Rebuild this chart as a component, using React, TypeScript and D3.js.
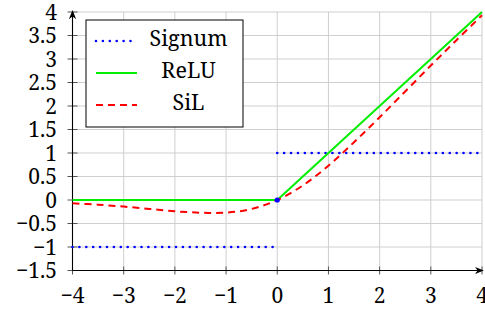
import React from 'react';
import * as d3 from 'd3';

// values
const xTicks = [-4, -3, -2, -1, 0, 1, 2, 3, 4];
const yTicks = [-1.5, -1, -0.5, 0, 0.5, 1, 1.5, 2, 2.5, 3, 3.5, 4];

const signumLeft: [number, number][] = [[-4, -1], [-0.08, -1]];
const signumRight: [number, number][] = [[0, 1], [4, 1]];
const signumZero: [number, number] = [0, 0];

const reluPoints: [number, number][] = [[-4, 0], [0, 0], [4, 4]];

const silX = [-4, -3.5, -3, -2.5, -2, -1.5, -1, -0.5, 0, 0.5, 1, 1.5, 2, 2.5, 3, 3.5, 4];
const silY = [-0.07, -0.1, -0.14, -0.19, -0.24, -0.27, -0.27, -0.19, 0, 0.31, 0.73, 1.23, 1.76, 2.31, 2.86, 3.4, 3.93];

const legendNames = ['Signum', 'ReLU', 'SiL'];

const W = 485, H = 310;
const FONT = '"Noto Serif"';

const x = d3.scaleLinear().domain([-4, 4]).range([72.5, 482]);
const y = d3.scaleLinear().domain([-1.5, 4]).range([270.5, 12]);

const line = d3.line<[number, number]>().x(d => x(d[0])).y(d => y(d[1]));
const curve = d3.line<[number, number]>().x(d => x(d[0])).y(d => y(d[1])).curve(d3.curveCatmullRom);
const silPoints: [number, number][] = silX.map((v, i) => [v, silY[i]]);

const fmt = (v: number) => (v < 0 ? '\u2212' : '') + Math.abs(v).toString();

const styles = [
  { stroke: '#0000ff', dash: '0 6.9', cap: 'round' as const, w: 2.6 },
  { stroke: '#00ee00', dash: undefined, cap: 'butt' as const, w: 2 },
  { stroke: '#ff0000', dash: '7 5', cap: 'butt' as const, w: 2 },
];

const App = () => {
  const textStyle = { fontFamily: FONT, fontSize: 21 };
  return (
    <svg width={W} height={H}
      style={{ position: 'absolute', left: 0, top: 0, background: '#fff' }}>
      <defs>
        <marker id="arr" viewBox="0 0 10 10" refX={9} refY={5} markerWidth={9} markerHeight={9}
          markerUnits="userSpaceOnUse" orient="auto">
          <path d="M0,1 L10,5 L0,9 L3,5 Z" fill="#000" />
        </marker>
      </defs>

      {/* grid */}
      <g stroke="#cfcfcf" strokeWidth={1}>
        {xTicks.map(t => <line key={'gx' + t} x1={x(t)} x2={x(t)} y1={y(-1.5)} y2={y(4)} />)}
        {yTicks.map(t => <line key={'gy' + t} x1={x(-4)} x2={x(4)} y1={y(t)} y2={y(t)} />)}
      </g>

      {/* tick marks */}
      <g stroke="#555" strokeWidth={1}>
        {xTicks.map(t => <line key={'tx' + t} x1={x(t)} x2={x(t)} y1={y(-1.5) - 4} y2={y(-1.5) + 4} />)}
        {yTicks.map(t => <line key={'ty' + t} x1={x(-4) - 5} x2={x(-4) + 5} y1={y(t)} y2={y(t)} />)}
      </g>

      {/* axes */}
      <line x1={x(-4)} x2={x(4) + 1} y1={y(-1.5)} y2={y(-1.5)} stroke="#000" strokeWidth={1.1} markerEnd="url(#arr)" />
      <line x1={x(-4)} x2={x(-4)} y1={y(-1.5)} y2={y(4) - 1} stroke="#000" strokeWidth={1.1} markerEnd="url(#arr)" />

      {/* tick labels */}
      {xTicks.map(t => (
        <text key={'lx' + t} x={x(t)} y={302.5} textAnchor="middle" style={textStyle}>{fmt(t)}</text>
      ))}
      {yTicks.map(t => (
        <text key={'ly' + t} x={57} y={y(t) + 7.5} textAnchor="end" style={textStyle}>{fmt(t)}</text>
      ))}

      {/* Signum */}
      {[signumLeft, signumRight].map((seg, i) => (
        <path key={'s' + i} d={line(seg) || ''} fill="none" stroke="#0000ff" strokeWidth={2.6}
          strokeLinecap="round" strokeDasharray="0 6.9" />
      ))}
      {/* ReLU */}
      <path d={line(reluPoints) || ''} fill="none" stroke="#00ee00" strokeWidth={2} />
      {/* SiL */}
      <path d={curve(silPoints) || ''} fill="none" stroke="#ff0000" strokeWidth={2} strokeDasharray="7 5" />
      <circle cx={x(signumZero[0])} cy={y(signumZero[1])} r={2.6} fill="#0000ff" />

      {/* legend */}
      <rect x={86} y={20} width={157} height={107} fill="#fff" stroke="#000" strokeWidth={1} />
      {legendNames.map((name, i) => {
        const cy = 41 + i * 32;
        const s = styles[i];
        return (
          <g key={name}>
            <line x1={96} x2={137} y1={cy} y2={cy} stroke={s.stroke} strokeWidth={s.w}
              strokeLinecap={s.cap} strokeDasharray={s.dash} />
            <text x={188.5} y={cy + 5} textAnchor="middle" style={{ fontFamily: FONT, fontSize: 21.5 }}>{name}</text>
          </g>
        );
      })}
    </svg>
  );
};

export default App;
